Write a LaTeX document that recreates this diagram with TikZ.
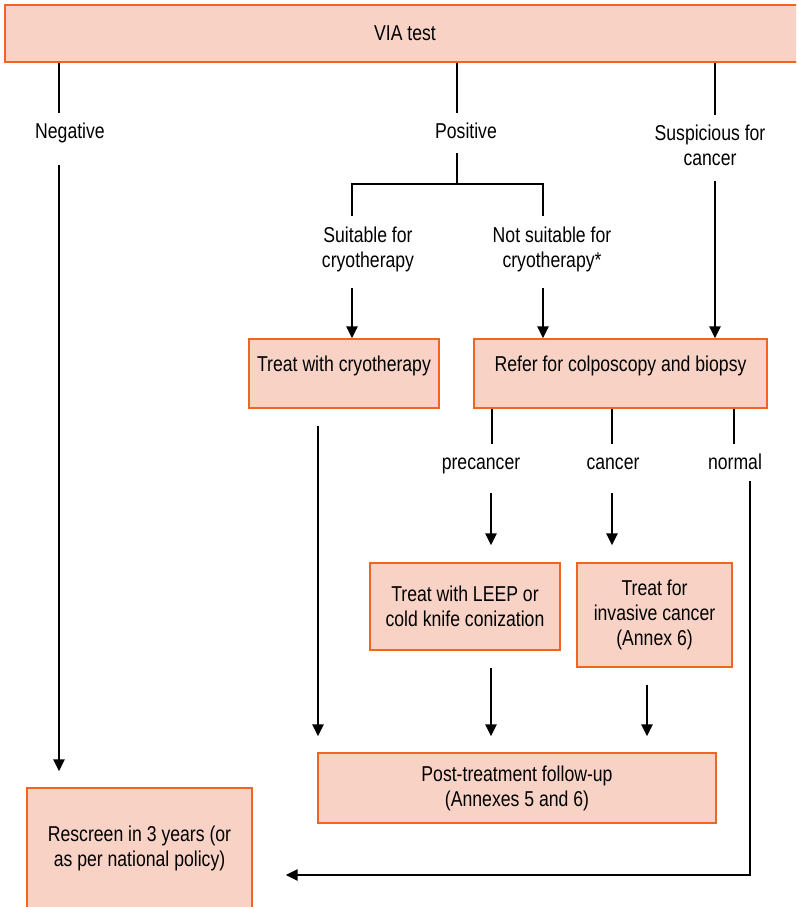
\documentclass[tikz,border=0pt]{standalone}
\usepackage{fontspec}
\setmainfont[FakeStretch=0.82]{Liberation Sans}
\usetikzlibrary{arrows.meta,positioning}
\definecolor{boxfill}{RGB}{248,211,197}
\definecolor{boxline}{RGB}{241,101,33}

\begin{document}
\begin{tikzpicture}[x=1pt,y=-1pt,font=\fontsize{21.5}{25}\selectfont]
    \tikzstyle{box}=[draw=boxline,fill=boxfill,line width=1.4pt,align=center,inner sep=0pt]
    \tikzstyle{lbl}=[align=center,inner sep=0pt,outer sep=10pt]
    \tikzstyle{oneline}=[lbl,text height=15pt,text depth=5pt]
    \tikzstyle{link}=[line width=1.3pt]
    \tikzstyle{flow}=[line width=2.5pt,-{Triangle[length=12pt,width=11pt]}]
    \clip (0,0) rectangle (796,907);

    \node[box,minimum width=800pt,minimum height=57pt] (via) at (405,33.5) {VIA test};
    \node[oneline] (neg) at (70,133) {Negative};
    \node[oneline] (pos) at (466,133) {Positive};
    \node[lbl] (susp) at (710,145) {Suspicious for\\cancer};
    \node[lbl] (suit) at (368,249) {Suitable for\\cryotherapy};
    \node[lbl] (notsuit) at (552,249) {Not suitable for\\cryotherapy*};
    \node[box,minimum width=190pt,minimum height=69pt,text depth=19pt] (cryo) at (344,373.5) {Treat with cryotherapy};
    \node[box,minimum width=293pt,minimum height=69pt,text depth=19pt] (refer) at (620.5,373.5) {Refer for colposcopy and biopsy};
    \node[oneline] (prec) at (481,464) {precancer};
    \node[oneline] (canc) at (613,464) {cancer};
    \node[oneline] (normal) at (735,464) {normal};
    \node[box,minimum width=190pt,minimum height=87pt] (leep) at (465,606.5) {Treat with LEEP or\\cold knife conization};
    \node[box,minimum width=155pt,minimum height=104pt] (invasive) at (654.5,615) {Treat for\\invasive cancer\\(Annex 6)};
    \node[box,minimum width=398pt,minimum height=70pt] (post) at (517,788) {Post-treatment follow-up\\(Annexes 5 and 6)};
    \node[box,minimum width=225pt,minimum height=120pt] (rescreen) at (139.5,848) {Rescreen in 3 years (or\\as per national policy)};

    % VIA results
    \draw[link] ([xshift=-11pt]neg.north |- via.south) -- ([xshift=-11pt]neg.north);
    \draw[link] ([xshift=-9pt]pos.north |- via.south) -- ([xshift=-9pt]pos.north);
    \draw[link] ([xshift=5pt]susp.north |- via.south) -- ([xshift=5pt]susp.north);
    \draw[flow,shorten <=12pt,shorten >=16pt] ([xshift=-11pt]neg.south) -- ([xshift=-11pt]neg.south |- rescreen.north);

    % positive split
    \coordinate (bar) at ([xshift=-9pt,yshift=-31pt]pos.south);
    \draw[link] ([xshift=-9pt]pos.south) -- (bar);
    \draw[link] ([xshift=-16pt]suit.north) |- (bar) -| ([xshift=-9pt]notsuit.north);
    \draw[flow,shorten <=6pt] ([xshift=-16pt]suit.south) -- ([xshift=-16pt]suit.south |- cryo.north);
    \draw[flow,shorten <=6pt] ([xshift=-9pt]notsuit.south) -- ([xshift=-9pt]notsuit.south |- refer.north);
    \draw[flow,shorten <=6pt] ([xshift=5pt]susp.south) -- ([xshift=5pt]susp.south |- refer.north);

    % biopsy results
    \draw[link] ([xshift=11pt]prec.north |- refer.south) -- ([xshift=11pt]prec.north);
    \draw[link] ([xshift=-1pt]canc.north |- refer.south) -- ([xshift=-1pt]canc.north);
    \draw[link] ([xshift=-1pt]normal.north |- refer.south) -- ([xshift=-1pt]normal.north);
    \draw[flow,shorten <=9pt,shorten >=17pt] ([xshift=10pt]prec.south) -- ([xshift=10pt]prec.south |- leep.north);
    \draw[flow,shorten <=9pt,shorten >=17pt] ([xshift=-1pt]canc.south) -- ([xshift=-1pt]canc.south |- invasive.north);
    \draw[flow] ([xshift=15pt,yshift=3pt]normal.south) |- ([xshift=33pt,yshift=-27pt]rescreen.east);

    % follow-up
    \draw[flow,shorten <=17pt,shorten >=16pt] ([xshift=-26pt]cryo.south) -- ([xshift=-26pt]cryo.south |- post.north);
    \draw[flow,shorten <=17pt,shorten >=16pt] ([xshift=26pt]leep.south) -- ([xshift=26pt]leep.south |- post.north);
    \draw[flow,shorten <=17pt,shorten >=16pt] ([xshift=-7.5pt]invasive.south) -- ([xshift=-7.5pt]invasive.south |- post.north);
\end{tikzpicture}
\end{document}
